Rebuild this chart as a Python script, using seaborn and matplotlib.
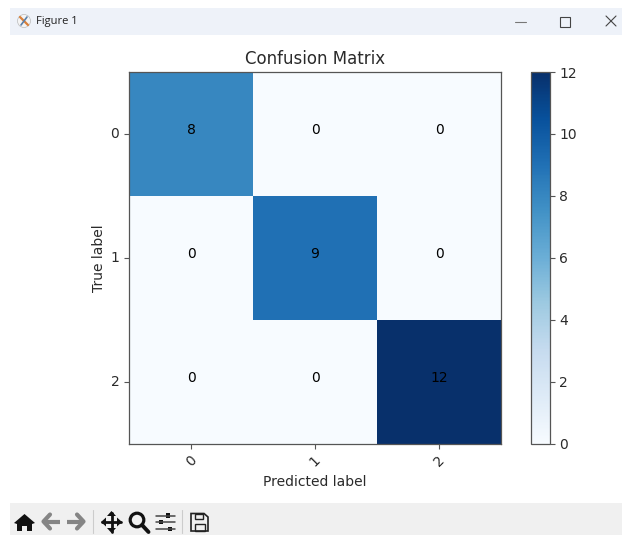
import matplotlib
matplotlib.use("Agg")
import matplotlib.pyplot as plt
import numpy as np
import seaborn as sns
from matplotlib.patches import Rectangle, Polygon, Circle
from matplotlib.lines import Line2D

class_labels = [0, 1, 2]
row_0 = [8, 0, 0]
row_1 = [0, 9, 0]
row_2 = [0, 0, 12]
cbar_ticks = [0, 2, 4, 6, 8, 10, 12]

W, H = 622, 535
sns.set_style("white")
plt.rcParams["font.family"] = ["DejaVu Sans"]
fig = plt.figure(figsize=(W / 100, H / 100), dpi=100, facecolor="white")


def box(x0, y0, x1, y1):
    return [x0 / W, 1 - y1 / H, (x1 - x0) / W, (y1 - y0) / H]


ax = fig.add_axes(box(129, 72, 501, 443.5))
cax = fig.add_axes(box(531, 72, 549.5, 443.5))

matrix = np.array([row_0, row_1, row_2])
sns.heatmap(
    matrix, ax=ax, cbar_ax=cax, cmap="Blues", vmin=0, vmax=12,
    annot=True, fmt="d",
    annot_kws={"color": "black", "va": "baseline", "fontsize": 10},
    xticklabels=class_labels, yticklabels=class_labels,
    cbar_kws={"ticks": cbar_ticks},
)

text_c = "#2a2a2a"
edge_c = "#555555"
ax.set_title("Confusion Matrix", fontsize=12, color=text_c, pad=6)
ax.set_xlabel("Predicted label", fontsize=10, color=text_c, labelpad=4)
ax.set_ylabel("True label", fontsize=10, color=text_c, labelpad=3)
ax.tick_params(axis="x", bottom=True, length=3.5, width=0.8, color=edge_c, labelcolor=text_c, labelsize=10)
ax.tick_params(axis="y", left=True, length=3.5, width=0.8, color=edge_c, labelcolor=text_c, labelsize=10)
plt.setp(ax.get_xticklabels(), rotation=45)
plt.setp(ax.get_yticklabels(), rotation=0)
for s in ax.spines.values():
    s.set_visible(True)
    s.set_linewidth(0.9)
    s.set_edgecolor(edge_c)

cb = ax.collections[0].colorbar
cb.outline.set_visible(True)
cb.outline.set_linewidth(0.9)
cb.outline.set_edgecolor(edge_c)
cax.tick_params(right=True, length=3.5, width=0.8, color=edge_c, labelcolor=text_c, labelsize=10)

# Window chrome, in pixel coordinates of the screenshot
ov = fig.add_axes([0, 0, 1, 1], zorder=10)
ov.set_xlim(0, W)
ov.set_ylim(H, 0)
ov.axis("off")
ov.patch.set_alpha(0)

ov.add_patch(Rectangle((10, 8), W - 10, 27, fc="#eef2f9", ec="none"))
ov.add_patch(Rectangle((10, 503), W - 10, 32, fc="#f0f0f0", ec="none"))

# title bar
ov.add_patch(Circle((24, 21), 6.5, fc="#f4f4f4", ec="#bbbbbb", lw=0.5))
ov.add_line(Line2D([20, 28], [17, 25], color="#d9803a", lw=1.6))
ov.add_line(Line2D([21, 27], [25, 17], color="#5a7fa8", lw=1.2))
ov.text(36, 21.5, "Figure 1", fontsize=8, color="#222222", va="center", ha="left",
        family="Open Sans")
ov.add_line(Line2D([515, 526], [21.5, 21.5], color="#777777", lw=0.8))
ov.add_patch(Rectangle((560, 16.5), 9.5, 10, fc="none", ec="#444444", lw=0.8))
ov.add_line(Line2D([606, 616], [16, 26], color="#444444", lw=0.8))
ov.add_line(Line2D([606, 616], [26, 16], color="#444444", lw=0.8))

# toolbar
dark = "#111111"
grey = "#858585"
# home
ov.add_patch(Polygon([(14, 523), (24.5, 514), (35, 523), (32, 524), (32, 531), (27, 531), (27, 526),
                      (22, 526), (22, 531), (17, 531), (17, 524)], fc=dark, ec="none"))
# back / forward
ov.add_line(Line2D([43, 60], [521.5, 521.5], color=grey, lw=3.0, solid_capstyle="butt"))
ov.add_line(Line2D([50, 43.5, 50], [514.5, 521.5, 528.5], color=grey, lw=3.0))
ov.add_line(Line2D([67, 84], [521.5, 521.5], color=grey, lw=3.0, solid_capstyle="butt"))
ov.add_line(Line2D([77, 83.5, 77], [514.5, 521.5, 528.5], color=grey, lw=3.0))
# separators
ov.add_line(Line2D([93, 93], [510, 533], color="#cccccc", lw=0.8))
ov.add_line(Line2D([182, 182], [510, 533], color="#cccccc", lw=0.8))
# move
ov.add_line(Line2D([102, 121], [522, 522], color=dark, lw=2.0))
ov.add_line(Line2D([111.5, 111.5], [513, 532], color=dark, lw=2.0))
for pts in ([(111.5, 511), (107, 516), (116, 516)], [(111.5, 533), (107, 528), (116, 528)],
            [(101, 522), (106, 517.5), (106, 526.5)], [(122, 522), (117, 517.5), (117, 526.5)]):
    ov.add_patch(Polygon(pts, fc=dark, ec="none"))
# zoom
ov.add_patch(Circle((137, 520), 6.8, fc="none", ec=dark, lw=2.3))
ov.add_line(Line2D([142, 148.5], [525, 532], color=dark, lw=2.8))
# sliders
for y, xk in ((515.5, 168), (522, 161), (529, 170)):
    ov.add_line(Line2D([156, 175], [y, y], color="#444444", lw=1.1))
    ov.add_patch(Rectangle((xk - 2, y - 2.2), 4, 4.4, fc=dark, ec="none"))
# save
ov.add_patch(Polygon([(191, 513.5), (204, 513.5), (208, 517), (208, 531), (191, 531)], fc="none", ec="#222222", lw=1.2))
ov.add_patch(Rectangle((195, 513.5), 8, 5.5, fc="none", ec="#222222", lw=1.0))
ov.add_patch(Rectangle((194.5, 524), 10, 7, fc="none", ec="#222222", lw=1.0))

fig.savefig("out.png", dpi=100, facecolor="white")
